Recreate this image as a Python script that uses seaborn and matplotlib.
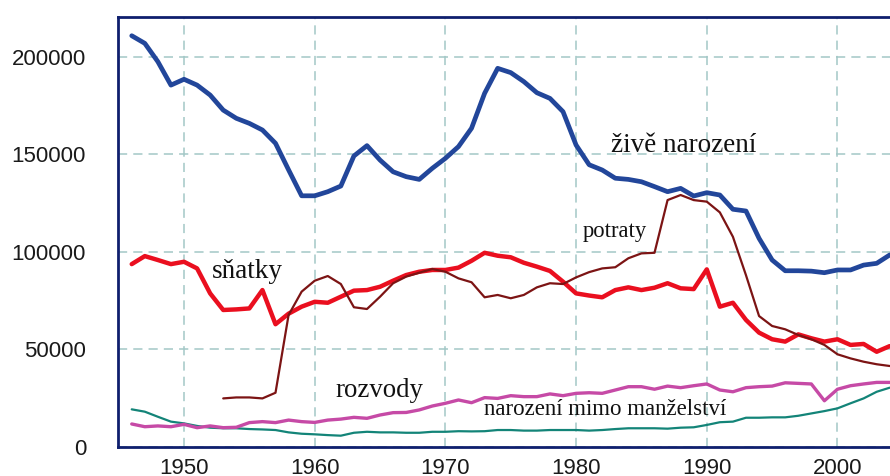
import matplotlib
matplotlib.use("Agg")
import matplotlib.pyplot as plt
import seaborn as sns
import numpy as np
import pandas as pd

years = list(range(1946, 2005))

# živě narození
births = [210700, 206800, 197400, 185400, 188400, 185400, 180300, 172600, 168400, 165800,
          162400, 155600, 142000, 128700, 128700, 130800, 133700, 149100, 154400, 147000,
          141000, 138500, 137100, 142800, 147900, 153900, 163300, 181200, 194000, 191800,
          187200, 181500, 178600, 171800, 154700, 144600, 141900, 137700, 137100, 135900,
          133400, 130800, 132500, 128600, 130300, 129100, 121800, 120900, 106900, 95800,
          90300, 90300, 90100, 89300, 90700, 90700, 93200, 94100, 98400]

# sňatky
marriages = [93700, 97800, 95800, 93700, 94900, 91500, 78700, 70200, 70500, 71000,
             80400, 62900, 68300, 71900, 74400, 73900, 77000, 80100, 80400, 82100,
             85200, 88100, 89800, 90700, 90700, 91900, 95400, 99500, 98000, 97200,
             94400, 92400, 90200, 84700, 78700, 77600, 76700, 80400, 81800, 80400,
             81600, 83900, 81300, 80900, 91000, 71900, 73900, 65100, 58600, 55200,
             54000, 57700, 55700, 54000, 55200, 52300, 52800, 48800, 51700]

# potraty (od 1953)
abortion_years = list(range(1953, 2005))
abortions = [24900, 25400, 25400, 24900, 27800, 67600, 79600, 85200, 87600, 83500,
             71600, 70700, 77000, 83900, 87300, 89300, 91200, 89800, 86400, 84400,
             76700, 77900, 76200, 77900, 81800, 83900, 83500, 86900, 89600, 91500,
             92100, 96700, 99200, 99500, 126500, 129100, 126500, 125700, 120200, 107700,
             88000, 67100, 62000, 60300, 57400, 55200, 52300, 47500, 45400, 43700,
             42400, 41500]

# rozvody
divorces = [11800, 10400, 10800, 10400, 11600, 9900, 10800, 9900, 10100, 12500,
            13000, 12500, 13800, 13000, 12600, 13800, 14300, 15200, 14700, 16400,
            17600, 17700, 19000, 21000, 22400, 24100, 22700, 25300, 24900, 26300,
            25800, 25800, 27200, 26300, 27500, 27800, 27500, 29200, 30900, 30900,
            29600, 31200, 30400, 31400, 32300, 29200, 28300, 30400, 30900, 31200,
            32900, 32600, 32300, 23700, 29600, 31400, 32300, 33100, 33100]

# narození mimo manželství
extramarital = [19300, 18100, 15500, 13000, 12100, 10800, 9900, 9600, 9600, 9200,
                9000, 8700, 7500, 6800, 6500, 6100, 5800, 7300, 7800, 7500,
                7500, 7300, 7300, 7800, 7800, 8100, 8000, 8100, 8700, 8700,
                8400, 8400, 8700, 8700, 8700, 8400, 8700, 9200, 9600, 9600,
                9600, 9400, 9900, 10100, 11300, 12700, 13000, 15000, 15000, 15200,
                15200, 16000, 17200, 18400, 19800, 22400, 24900, 28300, 30400]

sns.set_theme(style="white")
plt.rcParams["font.family"] = ["Liberation Sans", "DejaVu Sans"]

fig = plt.figure(figsize=(8.9, 4.76), dpi=100)
ax = fig.add_axes([0.1326, 0.0609, 0.8680, 0.9034])

navy = "#0f1f6e"
grid_c = "#a3c7c6"

df = pd.DataFrame({"year": years, "births": births, "marriages": marriages,
                   "divorces": divorces, "extramarital": extramarital})
df_ab = pd.DataFrame({"year": abortion_years, "abortions": abortions})

sns.lineplot(data=df, x="year", y="extramarital", ax=ax, color="#138478", linewidth=1.6, zorder=3)
sns.lineplot(data=df, x="year", y="divorces", ax=ax, color="#c64aa6", linewidth=2.4, zorder=3)
sns.lineplot(data=df, x="year", y="marriages", ax=ax, color="#ea0f1f", linewidth=3.2, zorder=4)
sns.lineplot(data=df_ab, x="year", y="abortions", ax=ax, color="#7c1414", linewidth=1.6, zorder=5)
sns.lineplot(data=df, x="year", y="births", ax=ax, color="#22469a", linewidth=3.4, zorder=6)

ax.set_xlim(1944.95, 2004.06)
ax.set_ylim(0, 220300)
ax.set_xticks([1950, 1960, 1970, 1980, 1990, 2000])
ax.set_yticks([0, 50000, 100000, 150000, 200000])
ax.set_yticklabels(["0", "50000", "100000", "150000", "200000"])
ax.set_xlabel("")
ax.set_ylabel("")
ax.tick_params(axis="both", length=0, labelsize=16, colors="#1a1a1a")
ax.tick_params(axis="y", pad=23)
ax.tick_params(axis="x", pad=8)

ax.grid(True, color=grid_c, linestyle=(0, (6, 4)), linewidth=1.1, zorder=0)
ax.set_axisbelow(True)

for side in ["left", "bottom", "top"]:
    ax.spines[side].set_color(navy)
    ax.spines[side].set_linewidth(2.0)
ax.spines["right"].set_visible(False)

serif = ["Liberation Serif", "DejaVu Serif"]
ax.text(1982.7, 151100, "živě narození", family=serif, fontsize=19.5, color="#111111", va="baseline")
ax.text(1952.1, 86600, "sňatky", family=serif, fontsize=19.5, color="#111111", va="baseline")
ax.text(1980.5, 107400, "potraty", family=serif, fontsize=16.3, color="#111111", va="baseline")
ax.text(1961.55, 25400, "rozvody", family=serif, fontsize=19.3, color="#111111", va="baseline")
ax.text(1972.95, 16400, "narození mimo manželství", family=serif, fontsize=16.5,
        color="#111111", va="baseline")

fig.savefig("out.png", dpi=100)
